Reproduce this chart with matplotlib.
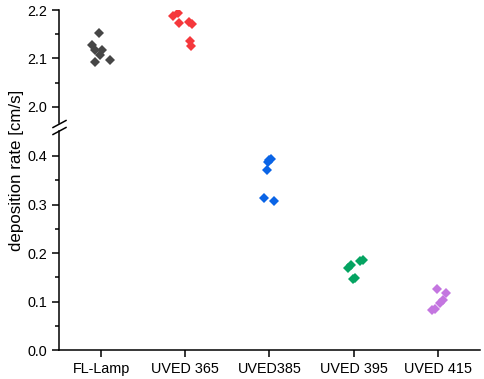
"""Deposition rate per light source, broken y axis"""

import numpy as np
import matplotlib
matplotlib.use("Agg")
from matplotlib import pyplot as plt

# data
sources = ["FL-Lamp", "UVED 365", "UVED385", "UVED 395", "UVED 415"]

fl_lamp = [2.152, 2.128, 2.118, 2.118, 2.107, 2.093, 2.097]
uved365 = [2.188, 2.193, 2.173, 2.176, 2.171, 2.137, 2.126]
uved385 = [0.394, 0.391, 0.387, 0.372, 0.313, 0.307]
uved395 = [0.169, 0.176, 0.184, 0.186, 0.147, 0.148]
uved415 = [0.126, 0.117, 0.104, 0.097, 0.085, 0.083]

# horizontal scatter within each group (category units)
fl_lamp_jit = [-0.02, -0.11, -0.07, 0.01, -0.01, -0.07, 0.11]
uved365_jit = [-0.15, -0.09, -0.08, 0.04, 0.08, 0.05, 0.07]
uved385_jit = [0.02, 0.0, -0.02, -0.03, -0.06, 0.05]
uved395_jit = [-0.07, -0.03, 0.08, 0.11, -0.01, 0.01]
uved415_jit = [-0.015, 0.10, 0.06, 0.02, -0.036, -0.075]

colors = ["#464646", "#f5383c", "#0a64e6", "#05a462", "#c476e0"]

plt.rcParams["font.family"] = ["Liberation Sans", "DejaVu Sans"]


def scatter_groups(ax, groups, jits):
    for i, (vals, jit) in enumerate(zip(groups, jits)):
        x = i + 1 + np.array(jit)
        ax.plot(x, vals, linestyle="none", marker="D", ms=4.9,
                color=colors[i], mew=0)


def style(ax):
    for s in ["top", "right"]:
        ax.spines[s].set_visible(False)
    for s in ["left", "bottom"]:
        ax.spines[s].set_linewidth(1.1)
    ax.tick_params(axis="y", which="major", direction="out", length=5,
                   width=1.1, labelsize=10.4)
    ax.tick_params(axis="y", which="minor", direction="out", length=3,
                   width=1.1)
    ax.set_xlim(0.5, 5.5)


def main():
    fig = plt.figure(figsize=(4.84, 3.79), dpi=100)
    ax_lo = fig.add_axes([0.1219, 0.0765, 0.8698, 0.5778])
    ax_hi = fig.add_axes([0.1219, 0.6755, 0.8698, 0.2981])

    groups = [fl_lamp, uved365, uved385, uved395, uved415]
    jits = [fl_lamp_jit, uved365_jit, uved385_jit, uved395_jit, uved415_jit]
    scatter_groups(ax_lo, groups, jits)
    scatter_groups(ax_hi, groups, jits)

    style(ax_lo)
    style(ax_hi)

    ax_lo.set_ylim(0, 0.4515)
    ax_lo.set_yticks([0.0, 0.1, 0.2, 0.3, 0.4])
    ax_lo.set_yticks([0.05, 0.15, 0.25, 0.35], minor=True)
    ax_lo.yaxis.set_major_formatter(plt.FormatStrFormatter("%.1f"))
    ax_lo.set_xticks(range(1, 6))
    ax_lo.set_xticklabels(sources)
    ax_lo.tick_params(axis="x", direction="out", length=5, width=1.1,
                      labelsize=10.4)

    ax_hi.set_ylim(1.967, 2.2)
    ax_hi.set_yticks([2.0, 2.1, 2.2])
    ax_hi.set_yticks([2.05, 2.15], minor=True)
    ax_hi.yaxis.set_major_formatter(plt.FormatStrFormatter("%.1f"))
    ax_hi.spines["bottom"].set_visible(False)
    ax_hi.set_xticks([])

    # break marks on the y axis
    tr = fig.transFigure
    x0, x1 = 53 / 484, 66 / 484
    for yb in (123.5, 130.5):
        y0 = 1 - (yb + 4) / 379
        y1 = 1 - (yb - 3) / 379
        fig.add_artist(plt.Line2D([x0, x1], [y0, y1], transform=tr,
                                  color="black", lw=1.1))

    fig.text(0.034, 0.551, "deposition rate [cm/s]", rotation=90,
             ha="center", va="center", fontsize=12.2)

    fig.savefig("out.png", dpi=100)


if __name__ == "__main__":
    main()
